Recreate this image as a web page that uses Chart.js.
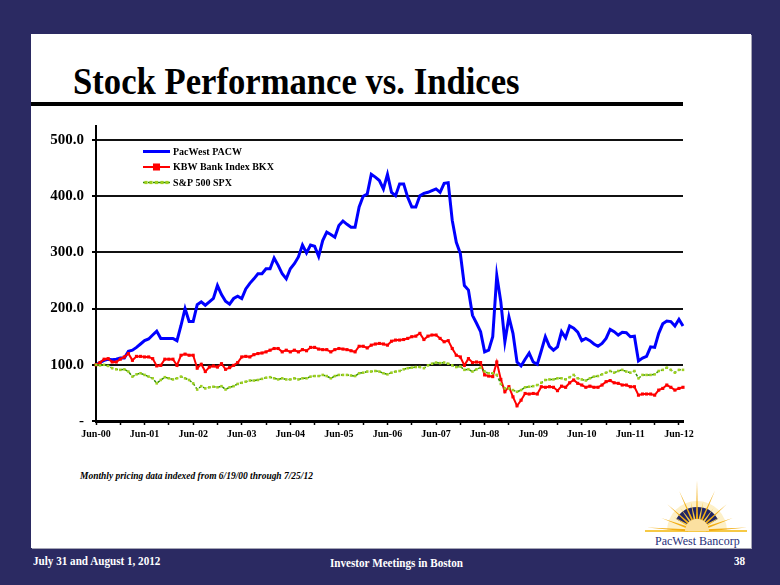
<!DOCTYPE html>
<html>
<head>
<meta charset="utf-8">
<script src="https://cdn.jsdelivr.net/npm/chart.js@4.4.1/dist/chart.umd.min.js"></script>
<style>
html,body{margin:0;padding:0;}
body{width:780px;height:585px;background:#2b2a62;position:relative;overflow:hidden;font-family:"Liberation Serif","Times New Roman",serif;}
#panel{position:absolute;left:31px;top:34px;width:720px;height:514px;background:#fff;box-shadow:1px 1px 0 #a5a5b5;}
#title{position:absolute;left:73px;top:62px;font-weight:bold;font-size:38px;line-height:1;white-space:nowrap;transform:scaleX(0.912);transform-origin:left top;color:#000;}
#rule{position:absolute;left:31px;top:102px;width:652px;height:4px;background:#000;}
#note{position:absolute;left:80px;top:471px;font-weight:bold;font-style:italic;font-size:10.5px;line-height:1;white-space:nowrap;color:#000;transform:scaleX(0.9);transform-origin:left top;}
.foot{position:absolute;top:555px;font-weight:bold;font-size:12.5px;line-height:1;color:#fff;white-space:nowrap;transform:scaleX(0.89);transform-origin:left top;}
#chart{position:absolute;left:0;top:0;}
#logo{position:absolute;left:640px;top:478px;}
</style>
</head>
<body>
<div id="panel"></div>
<div id="title">Stock Performance vs. Indices</div>
<div id="rule"></div>
<div id="note">Monthly pricing data indexed from 6/19/00 through 7/25/12</div>
<svg id="logo" width="112" height="70" viewBox="0 0 112 70"></svg>
<div class="foot" style="left:33px;">July 31 and August 1, 2012</div>
<div class="foot" style="left:330px;top:557px;">Investor Meetings in Boston</div>
<div class="foot" style="left:734px;">38</div>
<canvas id="chart" width="780" height="585"></canvas>
<script>
// ---------- data ----------
const monthNames = ['Jan','Feb','Mar','Apr','May','Jun','Jul','Aug','Sep','Oct','Nov','Dec'];
const firstMonth = 5, firstYear = 2000, monthCount = 146; // Jun-00 .. Jul-12
const categories = [];
for (let k = 0; k < monthCount; k++) {
  const m = (firstMonth + k) % 12;
  const y = firstYear + Math.floor((firstMonth + k) / 12);
  categories.push(monthNames[m] + '-' + String(y % 100).padStart(2, '0'));
}
const seriesNames = ['PacWest PACW', 'KBW Bank Index BKX', 'S&P 500 SPX'];
const pacw = [
100,104,108,110,109,110,112,112,124,126,
131,137,143,146,153,160,147,147,147,147,
143,170,200,177,177,207,212,206,212,218,
241,225,213,208,218,222,218,235,245,253,
262,262,271,271,290,277,262,253,271,280,
292,313,299,313,311,293,321,336,332,327,
348,356,350,345,345,381,400,404,439,434,
428,413,439,407,401,422,422,398,381,381,
401,405,407,410,413,407,423,424,357,318,
298,241,233,188,174,159,123,126,150,259,
212,141,185,156,105,98,110,121,105,101,
125,150,133,126,132,159,148,169,165,158,
143,147,143,137,133,138,147,163,159,153,
158,157,150,151,107,112,115,132,131,156,
173,178,177,169,181,169];
const bkx = [
100,104,110,111,105,105,110,114,120,108,
115,115,114,114,111,98,99,110,110,110,
99,117,119,117,117,94,101,88,96,98,
96,102,92,95,99,104,114,115,114,118,
120,121,123,126,129,129,123,126,123,126,
123,127,125,131,131,128,127,127,123,127,
129,128,127,125,123,133,133,130,135,137,
138,137,135,142,144,144,145,147,150,151,
156,145,151,153,153,147,141,143,129,117,
114,99,111,104,105,104,82,80,79,105,
74,52,61,43,27,37,49,48,49,48,
61,60,61,60,54,62,60,68,73,67,
64,60,62,60,60,64,70,72,68,67,
64,64,61,61,46,48,48,48,46,55,
58,64,60,55,58,60];
const spx = [
100,99,100,98,94,92,91,92,88,79,
83,85,82,79,76,67,73,78,76,74,
76,79,76,73,67,56,62,58,60,61,
60,62,56,60,62,66,68,70,72,72,
73,75,77,78,76,74,76,74,74,76,
74,76,76,79,80,80,82,80,76,80,
82,82,82,81,80,85,86,88,88,89,
88,85,83,86,88,89,92,94,95,96,
96,94,99,102,104,103,104,102,99,96,
97,91,92,88,92,95,88,85,85,82,
66,58,58,55,52,55,60,61,62,64,
68,73,74,74,76,76,74,78,82,76,
74,72,76,79,80,83,86,89,86,89,
91,88,86,89,76,82,82,82,83,89,
91,95,91,86,91,91];
const yTickValues = [0,100,200,300,400,500];
const labelEvery = 12, tickEvery = 6;

// ---------- logo (decoration) ----------
(function(){
  const svg = document.getElementById('logo');
  const ns = 'http://www.w3.org/2000/svg';
  const cx = 57, cy = 53;
  function add(tag, attrs){ const e = document.createElementNS(ns, tag); for (const k in attrs) e.setAttribute(k, attrs[k]); svg.appendChild(e); return e; }
  const P = (deg,rad)=> (cx+rad*Math.cos(deg*Math.PI/180)).toFixed(1)+','+(cy-rad*Math.sin(deg*Math.PI/180)).toFixed(1);
  // soft glow
  add('path',{d:`M ${cx-30} ${cy} A 30 30 0 0 1 ${cx+30} ${cy} Z`,fill:'#fdf0c8'});
  // navy window band
  add('path',{d:`M ${P(150,24)} A 24 24 0 0 1 ${P(30,24)} L ${P(30,12)} A 12 12 0 0 0 ${P(150,12)} Z`,fill:'#1f2566'});
  // horizon
  add('rect',{x:5,y:cy-1,width:102,height:2,fill:'#f6c945'});
  const big = [[90,51],[66,44],[114,44],[42,40],[138,40],[20,38],[160,38],[4,50],[176,50]];
  const small = [[78,30],[102,30],[54,28],[126,28],[31,27],[149,27]];
  small.forEach(([a,L])=>add('polygon',{points:[P(a-6,10),P(a,L),P(a+6,10)].join(' '),fill:'#f7c843'}));
  big.forEach(([a,L])=>add('polygon',{points:[P(a-7,9),P(a,L),P(a+7,9)].join(' '),fill:'#f2ae14'}));
  add('path',{d:`M ${cx-12} ${cy} A 12 12 0 0 1 ${cx+12} ${cy} Z`,fill:'#fbe0a0'});
  const t = add('text',{x:15,y:67,'font-family':'Liberation Serif, serif','font-size':'12',fill:'#27307a'});
  t.textContent = 'PacWest Bancorp';
})();

// ---------- chart ----------
const legendPlugin = {
  id: 'insideLegend',
  afterDraw(chart){
    const ctx = chart.ctx;
    const rows = [151.5, 167, 182.5];
    ctx.save();
    chart.data.datasets.forEach((ds, i) => {
      const y = rows[i];
      ctx.strokeStyle = ds.borderColor;
      ctx.lineWidth = ds.borderWidth;
      ctx.setLineDash(ds.borderDash || []);
      ctx.beginPath(); ctx.moveTo(143, y); ctx.lineTo(170, y); ctx.stroke();
      ctx.setLineDash([]);
      if (ds.pointRadius > 0) {
        const s = ds.pointRadius * 1.6;
        ctx.fillStyle = ds.pointBackgroundColor;
        if (i === 2) {
          [146, 151, 156.5, 162, 167].forEach(x => ctx.fillRect(x - 1.6, y - 1.6, 3.2, 3.2));
        } else {
          ctx.fillRect(156.5 - s, y - s, 2 * s, 2 * s);
        }
      }
      ctx.fillStyle = '#000';
      ctx.font = 'bold 10px "Liberation Serif", serif';
      ctx.textBaseline = 'middle';
      ctx.fillText(ds.label, 173, y + 0.5);
    });
    ctx.restore();
  }
};

new Chart(document.getElementById('chart'), {
  type: 'line',
  data: {
    labels: categories,
    datasets: [
      { label: seriesNames[0], data: pacw, borderColor: '#0000ff', backgroundColor: '#0000ff', borderWidth: 3, pointRadius: 0, tension: 0, order: 3 },
      { label: seriesNames[1], data: bkx, borderColor: '#ff0000', backgroundColor: '#ff0000', pointBackgroundColor: '#ff0000', pointBorderColor: '#ff0000', borderWidth: 2, pointStyle: 'rect', pointRadius: 2.2, pointBorderWidth: 0, tension: 0, order: 2 },
      { label: seriesNames[2], data: spx, borderColor: '#2f8f00', backgroundColor: '#99cc22', pointBackgroundColor: '#9fd020', pointBorderColor: '#9fd020', borderWidth: 1.5, borderDash: [3,2], pointStyle: 'rect', pointRadius: 1.8, pointBorderWidth: 0, tension: 0, order: 1 }
    ]
  },
  options: {
    responsive: false,
    animation: false,
    devicePixelRatio: 1,
    layout: { padding: { left: 36, right: 97, top: 126, bottom: 134 } },
    plugins: { legend: { display: false }, tooltip: { enabled: false } },
    scales: {
      x: {
        type: 'category',
        offset: false,
        afterFit: s => { s.height = 30; },
        grid: {
          drawOnChartArea: false,
          drawTicks: true,
          tickLength: 4,
          tickWidth: 1.5,
          tickColor: c => (c.index % tickEvery === 0 ? '#000' : 'rgba(0,0,0,0)')
        },
        border: { color: '#000', width: 3 },
        ticks: {
          autoSkip: false,
          maxRotation: 0,
          minRotation: 0,
          padding: 3,
          color: '#000',
          font: { family: '"Liberation Serif", serif', size: 10, weight: 'bold' },
          callback: function(v, i){ return i % labelEvery === 0 ? categories[i] : ''; }
        }
      },
      y: {
        min: 0,
        max: 525,
        afterFit: s => { s.width = 60; },
        grid: { color: '#111', lineWidth: 2, tickLength: 4, tickColor: '#000' },
        border: { color: '#000', width: 2 },
        ticks: {
          stepSize: 100,
          includeBounds: false,
          padding: 8,
          color: '#000',
          font: { family: '"Liberation Serif", serif', size: 15, weight: 'bold' },
          callback: v => (yTickValues.includes(v) ? (v === 0 ? '-' : v.toFixed(1)) : '')
        }
      }
    }
  },
  plugins: [legendPlugin]
});
</script>
</body>
</html>
